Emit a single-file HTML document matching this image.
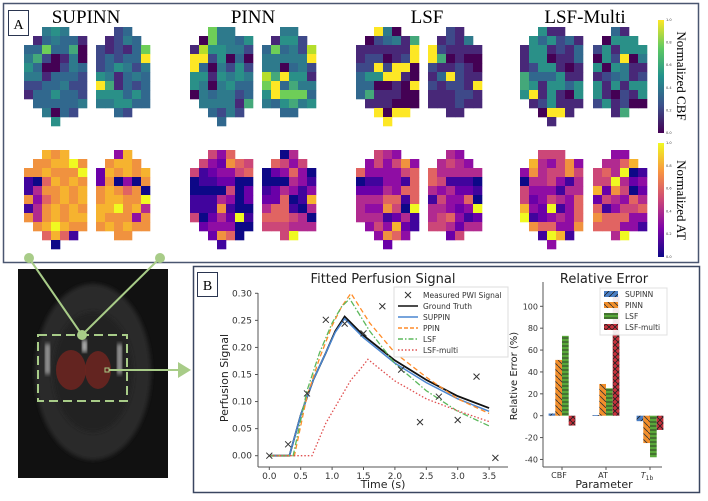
<!DOCTYPE html>
<html><head><meta charset="utf-8"><style>
body{margin:0;background:#fff;width:708px;height:501px;overflow:hidden}
svg{display:block}
.serif{font-family:"Liberation Serif",serif}
.sans{font-family:"DejaVu Sans","Liberation Sans",sans-serif}
</style></head><body>
<svg id="fig" width="708" height="501" viewBox="0 0 708 501" xmlns="http://www.w3.org/2000/svg">
<defs>
<linearGradient id="gv" x1="0" y1="1" x2="0" y2="0">
<stop offset="0" stop-color="#440154"/><stop offset="0.25" stop-color="#3b528b"/><stop offset="0.5" stop-color="#21918c"/><stop offset="0.75" stop-color="#5ec962"/><stop offset="1" stop-color="#fde725"/></linearGradient>
<linearGradient id="gp" x1="0" y1="1" x2="0" y2="0">
<stop offset="0" stop-color="#0d0887"/><stop offset="0.25" stop-color="#7e03a8"/><stop offset="0.5" stop-color="#cc4778"/><stop offset="0.75" stop-color="#f89540"/><stop offset="1" stop-color="#f0f921"/></linearGradient>
<pattern id="hb" width="6" height="6" patternUnits="userSpaceOnUse"><rect width="6" height="6" fill="#4a7ec4"/><path d="M0,6 L6,0" stroke="#222" stroke-width="0.8"/></pattern>
<pattern id="ho" width="6" height="6" patternUnits="userSpaceOnUse"><rect width="6" height="6" fill="#f28e2b"/><path d="M0,0 L6,6" stroke="#333" stroke-width="0.8"/></pattern>
<pattern id="hg" width="6" height="4" patternUnits="userSpaceOnUse"><rect width="6" height="4" fill="#59a83a"/><path d="M0,2 L6,2" stroke="#222" stroke-width="0.8"/></pattern>
<pattern id="hr" width="6" height="6" patternUnits="userSpaceOnUse"><rect width="6" height="6" fill="#c8303b"/><path d="M0,0 L6,6 M0,6 L6,0" stroke="#222" stroke-width="0.8"/></pattern>
<filter id="bl"><feGaussianBlur stdDeviation="2"/></filter>
</defs>

<!-- Panel A -->
<rect x="3.5" y="3.5" width="695" height="259" fill="#fff" stroke="#4a5670" stroke-width="1.5"/>
<rect x="8.5" y="10.5" width="20" height="25" fill="#fff" stroke="#2a3550" stroke-width="1"/>
<text x="18.5" y="29" text-anchor="middle" class="serif" font-size="14">A</text>
<text x="86" y="23" text-anchor="middle" class="serif" font-size="19">SUPINN</text>
<text x="253" y="23" text-anchor="middle" class="serif" font-size="19">PINN</text>
<text x="427" y="23" text-anchor="middle" class="serif" font-size="19">LSF</text>
<text x="585" y="23" text-anchor="middle" class="serif" font-size="19">LSF-Multi</text>
<g id="maps"></g>
<rect x="658" y="20" width="6" height="113" fill="url(#gv)"/>
<rect x="658" y="143" width="6" height="114" fill="url(#gp)"/>
<g class="sans" font-size="3.5" fill="#333" id="cbticks"></g>
<text transform="translate(677,76) rotate(90)" text-anchor="middle" class="serif" font-size="13">Normalized CBF</text>
<text transform="translate(677,200) rotate(90)" text-anchor="middle" class="serif" font-size="13">Normalized AT</text>

<!-- MRI inset -->
<g>
<rect x="18" y="269" width="150" height="209" fill="#111"/>
<ellipse cx="93" cy="372" rx="58" ry="88" fill="#2a2a2a" filter="url(#bl)"/>
<ellipse cx="93" cy="372" rx="40" ry="60" fill="#222" filter="url(#bl)"/>
<rect x="45" y="344" width="5" height="30" fill="#aaa" filter="url(#bl)"/>
<rect x="117" y="344" width="5" height="30" fill="#aaa" filter="url(#bl)"/>
<rect x="82" y="340" width="5" height="12" fill="#ccc" filter="url(#bl)"/>
<ellipse cx="71" cy="370" rx="15" ry="20" fill="#6e2420" opacity="0.85"/>
<ellipse cx="98" cy="370" rx="13" ry="19" fill="#6e2420" opacity="0.85"/>
</g>
<rect x="38" y="335" width="89" height="66" fill="none" stroke="#a8cc88" stroke-width="2" stroke-dasharray="9,5"/>
<line x1="29" y1="258" x2="82" y2="335" stroke="#a8cc88" stroke-width="2"/>
<line x1="160" y1="258" x2="82" y2="335" stroke="#a8cc88" stroke-width="2"/>
<circle cx="29" cy="258" r="5" fill="#a8cc88"/>
<circle cx="160" cy="258" r="5" fill="#a8cc88"/>
<circle cx="82" cy="335" r="5" fill="#a8cc88"/>
<rect x="105" y="368" width="4" height="4" fill="none" stroke="#a8cc88" stroke-width="1"/>
<line x1="109" y1="370" x2="180" y2="370" stroke="#a8cc88" stroke-width="2"/>
<polygon points="178,362 191,370 178,378" fill="#a8cc88"/>

<!-- Panel B -->
<rect x="193.5" y="266.5" width="506" height="226" fill="#fff" stroke="#3a4660" stroke-width="1.5"/>
<rect x="197.5" y="272.5" width="20" height="24" fill="#fff" stroke="#2a3550" stroke-width="1"/>
<text x="207.5" y="290" text-anchor="middle" class="serif" font-size="14">B</text>
<g id="line-chart" class="sans"></g>
<g id="bar-chart" class="sans"></g>
</svg>
<script>
// ---------- Heatmap data ----------
const cbfMaps = {
 supinnL:["..454..",".134331","3373360","4620140","5300243","4413332","2233422","1335332",".333334","..4032.","...5..."],
 supinnR:["..23..",".1243.","212137","232339","235424","541343","961323","555353","445533","..32.."],
 pinnL:["..744..",".074435","1855442","9925030","9304252","5515454","5404533","0434423",".444416","..3242.","...3..."],
 pinnR:["..44..",".1552.","373428","444449","440342","869551","793644","597773","435645","..33.."],
 lsfL:["..940..",".023416","1111119","1220129","2292990","3559910","3300109","3611100",".111000","..9099.","...9..."],
 lsfR:["..21..",".1214.","921111","960100","211210","139211","212219","111221","111211","..11.."],
 multiL:["..511..",".535231","1551213","1550113","1255101","6333511","6515535","5915105",".125111","..0991.","...1..."],
 multiR:["..31..",".0555.","251555","052904","505411","123412","515155","510215","251200","..16.."]
};
const atMaps = {
 supinnL:["..878..",".778897","7787779","1068787","1477878","7367878","1478787","7478788",".789877","..6861.","...0..."],
 supinnR:["..38..",".7887.","287878","270307","787670","788779","889784","877737","787877","..77.."],
 pinnL:["..536..",".532765","5123356","0112200","0000502","1114302","1117100","5024291",".233300","..2760.","...1..."],
 pinnR:["..04..",".6535.","023630","000431","124313","226018","466104","666540","555444","..59.."],
 lsfL:["..543..",".353573","6333356","0113316","2224366","4446616","4337509","4441241",".353821","..3763.","...2..."],
 lsfR:["..43..",".4543.","644444","651110","434221","153360","443239","456312","554244","..25.."],
 multiL:["..555..",".843573","3745575","0445314","5333144","5235436","8329136","9123436",".766337","..1981.","...3..."],
 multiR:["..33..",".4468.","564901","559423","827502","254364","613556","766633","666331","..49.."]
};
const mapKeys=["supinnL","supinnR","pinnL","pinnR","lsfL","lsfR","multiL","multiR"];
const viridis=["#440154","#482878","#3e4989","#31688e","#2e7a8c","#2a9088","#44a87a","#6ece58","#b5de2b","#fde725"];
const plasma=["#0d0887","#41049d","#6a00a8","#8f0da4","#b12a90","#cc4778","#e16462","#f0923f","#f6b32f","#f0f921"];
const NS="http://www.w3.org/2000/svg";
function mk(tag,attrs,parent){const e=document.createElementNS(NS,tag);for(const k in attrs)e.setAttribute(k,attrs[k]);parent.appendChild(e);return e;}
const mapsG=document.getElementById('maps');
const xOff=[24,96,190,262,356,428,520,593];
function drawMap(rows,x0,y0,cmap,name){
  const g=mk('g',{},mapsG);
  
  
  rows.forEach((r,ri)=>{for(let ci=0;ci<r.length;ci++){const ch=r[ci];if(ch==='.')continue;
    mk('rect',{x:x0+ci*9,y:y0+ri*9,width:9.3,height:9.3,fill:cmap[+ch]},g);}});
}
mapKeys.forEach((k,i)=>{drawMap(cbfMaps[k],xOff[i],27,viridis,'cbf-map-'+k);drawMap(atMaps[k],xOff[i],150,plasma,'at-map-'+k);});
const cbt=document.getElementById('cbticks');
["0.0","0.2","0.4","0.6","0.8","1.0"].forEach((t,i)=>{
  const a=mk('text',{x:666,y:134-i*22.6},cbt);a.textContent=t;
  const b=mk('text',{x:666,y:258-i*22.8},cbt);b.textContent=t;
});

// ---------- Line chart data ----------
const measuredT=[0,0.3,0.6,0.9,1.2,1.5,1.8,2.1,2.4,2.7,3.0,3.3,3.6];
const measuredV=[0,0.021,0.115,0.251,0.244,0.226,0.276,0.159,0.062,0.109,0.066,0.146,-0.004];
const gtT=[0,0.32,0.5,0.7,0.9,1.05,1.2,1.5,2.0,2.5,3.0,3.5];
const gtV=[0,0,0.075,0.14,0.19,0.23,0.257,0.222,0.176,0.14,0.11,0.088];
const supT=[0,0.32,0.5,0.7,0.9,1.05,1.2,1.5,2.0,2.5,3.0,3.5];
const supV=[0,0,0.075,0.14,0.19,0.228,0.253,0.218,0.171,0.135,0.105,0.082];
const ppinT=[0,0.4,0.6,0.8,1.0,1.15,1.3,1.6,2.0,2.5,3.0,3.5];
const ppinV=[0,0,0.11,0.18,0.24,0.275,0.30,0.245,0.19,0.145,0.105,0.078];
const lsfT=[0,0.38,0.6,0.8,1.0,1.15,1.28,1.6,2.0,2.5,3.0,3.5];
const lsfV=[0,0,0.12,0.19,0.245,0.275,0.29,0.23,0.17,0.12,0.082,0.055];
const multiT=[0,0.68,0.9,1.1,1.3,1.45,1.57,2.0,2.5,3.0,3.5];
const multiV=[0,0,0.06,0.10,0.14,0.16,0.178,0.138,0.105,0.083,0.063];
const xTicks=[0,0.5,1.0,1.5,2.0,2.5,3.0,3.5];
const yTicks=[0,0.05,0.10,0.15,0.20,0.25,0.30];

const lc=document.getElementById('line-chart');
const X=t=>269.3+t*62.8, Y=v=>455.7-v*541.4;
mk('line',{x1:258,y1:293,x2:258,y2:467,stroke:'#555','stroke-width':1},lc);
mk('line',{x1:258,y1:467,x2:508,y2:467,stroke:'#555','stroke-width':1},lc);
xTicks.forEach(t=>{mk('line',{x1:X(t),y1:467,x2:X(t),y2:470,stroke:'#555'},lc);
  const tx=mk('text',{x:X(t),y:479,'text-anchor':'middle','font-size':9,fill:'#333'},lc);tx.textContent=t.toFixed(1);});
yTicks.forEach(v=>{mk('line',{x1:255,y1:Y(v),x2:258,y2:Y(v),stroke:'#555'},lc);
  const tx=mk('text',{x:252,y:Y(v)+3,'text-anchor':'end','font-size':9,fill:'#333'},lc);tx.textContent=v.toFixed(2);});
let tt=mk('text',{x:383,y:283,'text-anchor':'middle','font-size':13,fill:'#222'},lc);tt.textContent='Fitted Perfusion Signal';

tt=mk('text',{x:383,y:488,'text-anchor':'middle','font-size':11,fill:'#222'},lc);tt.textContent='Time (s)';

tt=mk('text',{transform:'translate(228,378) rotate(-90)','text-anchor':'middle','font-size':11,fill:'#222'},lc);tt.textContent='Perfusion Signal';

function line(T,V,color,dash,w,name){
  const p=mk('polyline',{points:T.map((t,i)=>X(t)+','+Y(V[i])).join(' '),fill:'none',stroke:color,'stroke-width':w,'stroke-dasharray':dash},lc);
  
  
}
line(gtT,gtV,'#111','',1.8,'series-ground-truth');
line(supT,supV,'#4a86d0','',1.5,'series-suppin');
line(ppinT,ppinV,'#ff8c29','5,3',1.3,'series-ppin');
line(lsfT,lsfV,'#5cb85c','6,2,1.5,2',1.3,'series-lsf');
line(multiT,multiV,'#e05050','1.5,2',1.3,'series-lsf-multi');
measuredT.forEach((t,i)=>{const x=X(t),y=Y(measuredV[i]);
  const m=mk('path',{d:`M${x-3},${y-3}L${x+3},${y+3}M${x-3},${y+3}L${x+3},${y-3}`,stroke:'#333','stroke-width':1},lc);
  
  });
// legend
const lg=mk('g',{},lc);


mk('rect',{x:394,y:287,width:114,height:70,fill:'#fff',stroke:'#ddd'},lg);
const legItems=[['Measured PWI Signal','x'],['Ground Truth','#111',''],['SUPPIN','#4a86d0',''],['PPIN','#ff8c29','4,2'],['LSF','#5cb85c','5,2,1.5,2'],['LSF-multi','#e05050','1.5,2']];
legItems.forEach((it,i)=>{const y=295+i*11;
  if(it[1]==='x')mk('path',{d:`M405,${y-3}L411,${y+3}M405,${y+3}L411,${y-3}`,stroke:'#333'},lg);
  else mk('line',{x1:398,y1:y,x2:418,y2:y,stroke:it[1],'stroke-width':1.5,'stroke-dasharray':it[2]},lg);
  const t=mk('text',{x:423,y:y+3,'font-size':7.5,fill:'#333'},lg);t.textContent=it[0];});

// ---------- Bar chart data ----------
const barCategories=['CBF','AT','T1b'];
const supinnErr=[2,0.5,-5];
const pinnErr=[51,29,-25];
const lsfErr=[73,25,-38];
const multiErr=[-9,110,-13];
const barTicks=[-40,-20,0,20,40,60,80,100];

const bc=document.getElementById('bar-chart');
const BX=i=>562+i*44, BY=v=>415.7-v*1.094;
mk('line',{x1:543,y1:282,x2:543,y2:467,stroke:'#555'},bc);
mk('line',{x1:543,y1:467,x2:662,y2:467,stroke:'#555'},bc);
barTicks.forEach(v=>{mk('line',{x1:540,y1:BY(v),x2:543,y2:BY(v),stroke:'#555'},bc);
  const t=mk('text',{x:538,y:BY(v)+3,'text-anchor':'end','font-size':8,fill:'#333'},bc);t.textContent=v;});
barCategories.forEach((c,i)=>{mk('line',{x1:BX(i),y1:467,x2:BX(i),y2:470,stroke:'#555'},bc);
  const t=mk('text',{x:BX(i)-3,y:478,'text-anchor':'middle','font-size':8,fill:'#333'},bc);
  if(c==='T1b'){t.innerHTML='<tspan font-style="italic">T</tspan><tspan font-size="6" dy="2">1b</tspan>';}else t.textContent=c;});
tt=mk('text',{x:604,y:283,'text-anchor':'middle','font-size':13,fill:'#222'},bc);tt.textContent='Relative Error';

tt=mk('text',{x:604,y:488,'text-anchor':'middle','font-size':11,fill:'#222'},bc);tt.textContent='Parameter';

tt=mk('text',{transform:'translate(517,376) rotate(-90)','text-anchor':'middle','font-size':10,fill:'#222'},bc);tt.textContent='Relative Error (%)';

const series=[[supinnErr,'url(#hb)'],[pinnErr,'url(#ho)'],[lsfErr,'url(#hg)'],[multiErr,'url(#hr)']];
series.forEach((s,si)=>{s[0].forEach((v,i)=>{
  const x=BX(i)+(si-2)*6.7, y0=BY(0), y1=BY(v);
  const r=mk('rect',{x:x,y:Math.min(y0,y1),width:6.7,height:Math.max(0.8,Math.abs(y1-y0)),fill:s[1]},bc);
  
  });});
const bl=mk('g',{},bc);


mk('rect',{x:600,y:288,width:67,height:47,fill:'#fff',stroke:'#ddd',opacity:0.9},bl);
['SUPINN','PINN','LSF','LSF-multi'].forEach((n,i)=>{const y=291+i*11;
  mk('rect',{x:604,y:y,width:14,height:6,fill:series[i][1]},bl);
  const t=mk('text',{x:625,y:y+6,'font-size':7.5,fill:'#333'},bl);t.textContent=n;});
</script>
</body></html>
